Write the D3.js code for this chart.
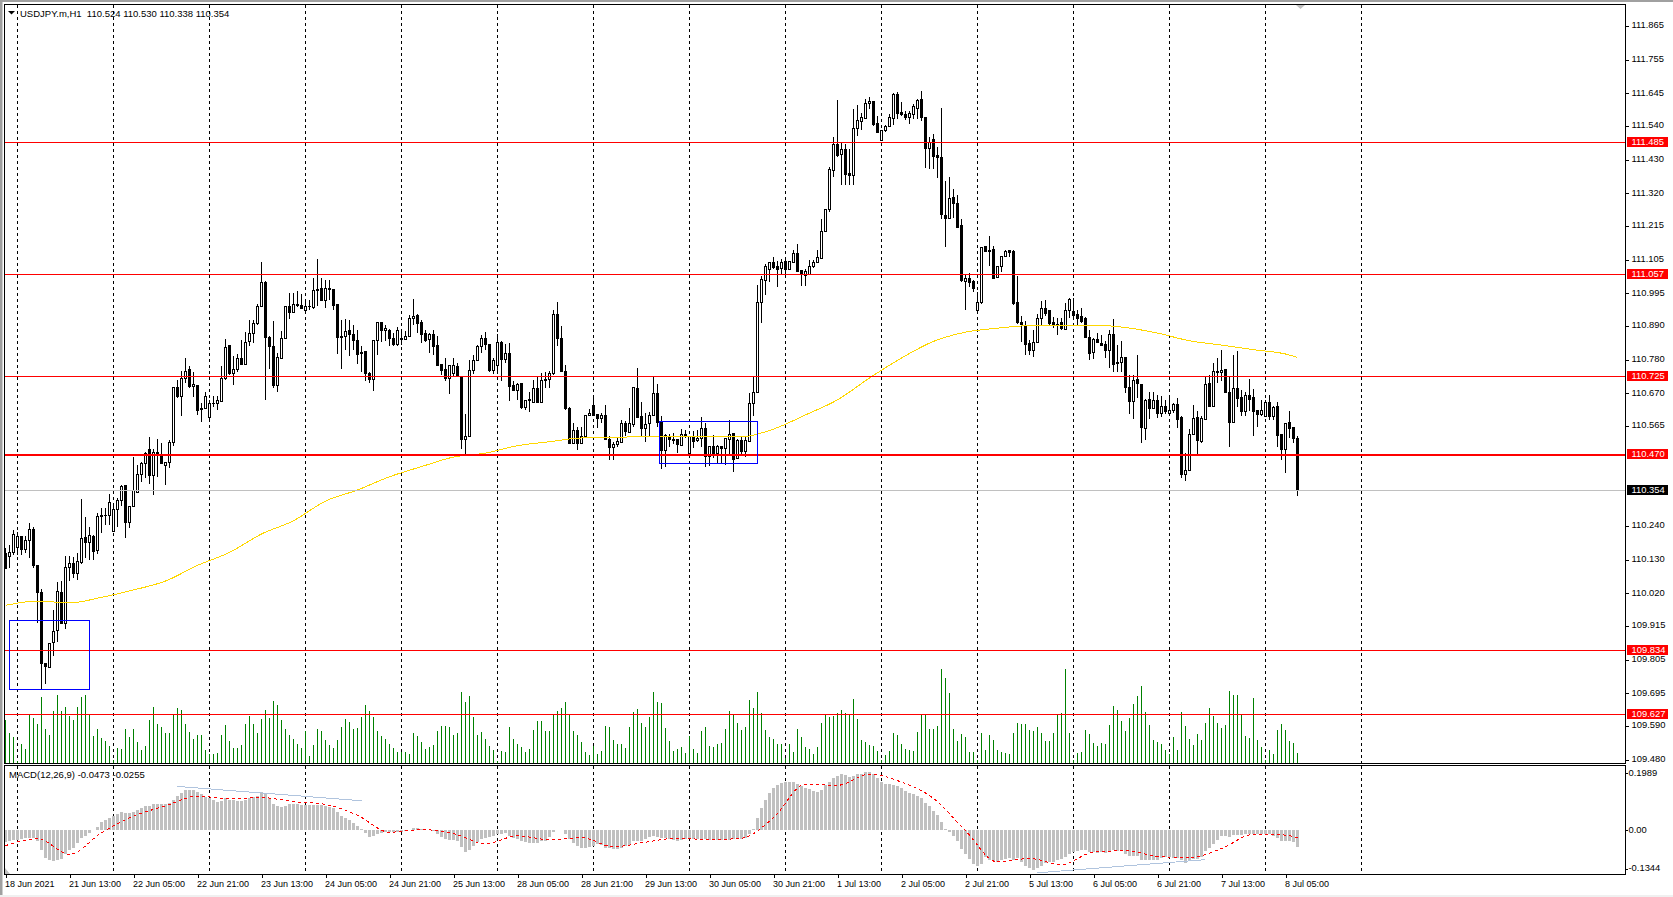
<!DOCTYPE html>
<html>
<head>
<meta charset="utf-8">
<script src="https://cdn.jsdelivr.net/npm/d3@7"></script>
<style>
html, body { margin: 0; padding: 0; background: #fff; overflow: hidden; }
svg { display: block; }
text { font-family: "Liberation Sans", Arial, sans-serif; font-size: 9px; fill: #000; }
</style>
</head>
<body>
<script>
// H1 candles, one row per bar: open, high, low, close
var candles = [
[110.150,110.166,110.098,110.101],[110.139,110.177,110.101,110.153],[110.153,110.226,110.144,110.212],[110.169,110.220,110.144,110.205],
[110.205,110.207,110.144,110.162],[110.162,110.206,110.152,110.192],[110.192,110.248,110.135,110.228],[110.229,110.237,110.104,110.110],
[110.109,110.110,109.924,110.022],[110.023,110.033,109.705,109.792],[109.792,109.793,109.725,109.781],[109.779,109.860,109.778,109.857],
[109.860,109.965,109.816,109.896],[109.899,110.057,109.861,110.026],[110.023,110.060,109.920,109.921],[109.922,110.143,109.904,110.104],
[110.104,110.143,110.061,110.116],[110.116,110.137,110.069,110.084],[110.084,110.150,110.064,110.124],[110.121,110.326,110.117,110.199],
[110.202,110.267,110.135,110.185],[110.185,110.237,110.130,110.209],[110.206,110.209,110.128,110.155],[110.159,110.280,110.148,110.270],
[110.274,110.296,110.215,110.269],[110.272,110.296,110.242,110.274],[110.272,110.342,110.243,110.316],[110.220,110.310,110.219,110.293],
[110.293,110.329,110.235,110.322],[110.322,110.372,110.304,110.368],[110.371,110.372,110.201,110.250],[110.250,110.304,110.233,110.303],
[110.303,110.462,110.302,110.355],[110.348,110.437,110.347,110.407],[110.407,110.446,110.382,110.443],[110.443,110.481,110.396,110.475],
[110.486,110.528,110.375,110.402],[110.403,110.488,110.340,110.478],[110.479,110.521,110.399,110.470],[110.470,110.508,110.440,110.441],
[110.437,110.447,110.372,110.446],[110.445,110.519,110.429,110.510],[110.510,110.691,110.500,110.690],[110.690,110.714,110.656,110.660],
[110.660,110.743,110.597,110.720],[110.720,110.786,110.703,110.742],[110.747,110.760,110.687,110.692],[110.692,110.741,110.657,110.700],
[110.697,110.698,110.600,110.615],[110.622,110.638,110.578,110.616],[110.622,110.674,110.620,110.660],[110.592,110.649,110.578,110.638],
[110.638,110.660,110.627,110.636],[110.637,110.660,110.616,110.647],[110.644,110.760,110.642,110.720],[110.720,110.848,110.714,110.820],
[110.825,110.828,110.730,110.734],[110.734,110.790,110.698,110.749],[110.749,110.799,110.741,110.785],[110.785,110.844,110.761,110.763],
[110.764,110.871,110.763,110.837],[110.838,110.907,110.825,110.866],[110.866,110.907,110.833,110.896],[110.896,110.960,110.893,110.954],
[110.952,111.097,110.950,111.032],[111.032,111.034,110.649,110.852],[110.853,110.857,110.750,110.823],[110.824,110.906,110.687,110.696],
[110.696,110.801,110.673,110.788],[110.784,110.874,110.781,110.850],[110.850,110.955,110.849,110.954],[110.952,110.995,110.913,110.933],
[110.934,110.996,110.931,110.960],[110.960,111.003,110.951,110.955],[110.957,110.994,110.944,110.946],[110.940,110.969,110.937,110.953],
[110.951,110.972,110.942,110.953],[110.950,111.045,110.944,111.006],[111.009,111.108,110.953,111.006],[111.012,111.045,110.969,110.972],
[110.973,111.037,110.947,111.012],[111.012,111.040,110.975,111.009],[111.009,111.010,110.940,110.956],[110.958,110.959,110.797,110.852],
[110.856,110.907,110.750,110.853],[110.855,110.912,110.812,110.871],[110.874,110.907,110.790,110.861],[110.863,110.893,110.812,110.842],
[110.843,110.877,110.766,110.797],[110.803,110.823,110.741,110.799],[110.805,110.806,110.709,110.736],[110.736,110.741,110.703,110.714],
[110.716,110.845,110.679,110.843],[110.843,110.902,110.796,110.899],[110.899,110.900,110.836,110.875],[110.876,110.893,110.839,110.882],
[110.876,110.879,110.823,110.850],[110.850,110.866,110.823,110.828],[110.828,110.886,110.825,110.874],[110.850,110.871,110.828,110.846],
[110.845,110.874,110.842,110.856],[110.856,110.926,110.855,110.912],[110.912,110.977,110.893,110.921],[110.922,110.928,110.866,110.897],
[110.900,110.907,110.833,110.862],[110.864,110.877,110.836,110.842],[110.846,110.866,110.801,110.860],[110.862,110.877,110.796,110.823],
[110.825,110.857,110.760,110.761],[110.765,110.766,110.730,110.745],[110.747,110.785,110.709,110.720],[110.718,110.763,110.667,110.761],
[110.734,110.785,110.727,110.761],[110.756,110.768,110.727,110.728],[110.725,110.726,110.490,110.519],[110.520,110.603,110.473,110.531],
[110.530,110.777,110.527,110.746],[110.746,110.796,110.733,110.778],[110.778,110.828,110.776,110.822],[110.822,110.861,110.801,110.850],
[110.850,110.869,110.812,110.828],[110.828,110.829,110.741,110.745],[110.745,110.785,110.734,110.778],[110.762,110.864,110.736,110.837],
[110.837,110.839,110.709,110.779],[110.779,110.830,110.768,110.801],[110.799,110.833,110.644,110.692],[110.695,110.709,110.677,110.679],
[110.679,110.703,110.649,110.700],[110.703,110.705,110.619,110.624],[110.624,110.649,110.616,110.648],[110.649,110.676,110.609,110.647],
[110.640,110.712,110.638,110.686],[110.687,110.725,110.638,110.640],[110.640,110.736,110.638,110.713],[110.713,110.738,110.689,110.716],
[110.716,110.744,110.687,110.735],[110.734,110.942,110.731,110.928],[110.928,110.966,110.823,110.849],[110.850,110.890,110.739,110.741],
[110.742,110.763,110.616,110.620],[110.622,110.627,110.505,110.507],[110.507,110.575,110.506,110.550],[110.550,110.562,110.486,110.508],
[110.508,110.562,110.506,110.531],[110.530,110.600,110.529,110.597],[110.597,110.620,110.595,110.605],[110.632,110.654,110.596,110.598],
[110.600,110.601,110.557,110.589],[110.589,110.606,110.573,110.599],[110.599,110.633,110.519,110.521],[110.521,110.530,110.454,110.495],
[110.494,110.513,110.454,110.505],[110.505,110.524,110.497,110.512],[110.511,110.584,110.510,110.573],[110.573,110.581,110.530,110.546],
[110.544,110.622,110.541,110.573],[110.570,110.691,110.562,110.690],[110.687,110.752,110.589,110.592],[110.594,110.641,110.530,110.556],
[110.556,110.606,110.511,110.570],[110.571,110.609,110.530,110.598],[110.597,110.728,110.595,110.671],[110.671,110.701,110.562,110.576],
[110.575,110.595,110.423,110.484],[110.484,110.537,110.432,110.534],[110.530,110.537,110.497,110.521],[110.521,110.541,110.506,110.517],
[110.521,110.522,110.475,110.503],[110.501,110.555,110.499,110.536],[110.533,110.551,110.524,110.537],[110.475,110.531,110.459,110.530],
[110.530,110.547,110.492,110.513],[110.516,110.551,110.513,110.524],[110.523,110.592,110.497,110.557],[110.557,110.573,110.432,110.465],
[110.465,110.499,110.434,110.498],[110.498,110.534,110.459,110.471],[110.473,110.503,110.445,110.496],[110.496,110.499,110.445,110.492],
[110.492,110.523,110.436,110.522],[110.520,110.584,110.470,110.537],[110.538,110.539,110.414,110.456],[110.458,110.521,110.456,110.518],
[110.517,110.530,110.465,110.481],[110.481,110.530,110.462,110.516],[110.513,110.671,110.512,110.638],[110.638,110.727,110.598,110.673],
[110.673,111.021,110.672,110.967],[110.964,111.052,110.899,111.039],[111.037,111.092,110.991,111.081],[111.072,111.096,111.031,111.094],
[111.095,111.112,111.075,111.079],[111.081,111.099,111.015,111.074],[111.075,111.108,111.056,111.097],[111.098,111.113,111.058,111.072],
[111.074,111.101,111.072,111.099],[111.096,111.135,111.095,111.124],[111.126,111.156,111.066,111.067],[111.068,111.072,111.018,111.055],
[111.053,111.074,111.018,111.067],[111.056,111.103,111.055,111.084],[111.083,111.103,111.077,111.094],[111.094,111.135,111.093,111.113],
[111.110,111.237,111.109,111.197],[111.197,111.270,111.195,111.267],[111.267,111.406,111.259,111.397],[111.396,111.504,111.373,111.479],
[111.479,111.622,111.439,111.443],[111.447,111.484,111.347,111.463],[111.463,111.482,111.347,111.381],[111.384,111.465,111.346,111.379],
[111.379,111.593,111.346,111.530],[111.530,111.606,111.508,111.556],[111.553,111.580,111.526,111.566],[111.565,111.628,111.564,111.611],
[111.611,111.634,111.593,111.619],[111.619,111.620,111.539,111.545],[111.547,111.573,111.515,111.519],[111.492,111.525,111.490,111.525],
[111.524,111.541,111.521,111.538],[111.537,111.577,111.536,111.566],[111.565,111.645,111.542,111.642],[111.642,111.649,111.563,111.581],
[111.583,111.618,111.571,111.575],[111.577,111.588,111.558,111.568],[111.568,111.588,111.547,111.579],[111.578,111.609,111.563,111.602],
[111.597,111.628,111.563,111.621],[111.624,111.654,111.554,111.568],[111.566,111.567,111.402,111.465],[111.465,111.504,111.400,111.487],
[111.495,111.512,111.398,111.441],[111.442,111.471,111.369,111.436],[111.436,111.598,111.237,111.253],[111.247,111.360,111.145,111.240],
[111.240,111.374,111.237,111.305],[111.307,111.333,111.240,111.286],[111.286,111.316,111.208,111.210],[111.215,111.237,111.031,111.037],
[111.034,111.056,110.942,111.045],[111.045,111.061,111.016,111.031],[111.034,111.040,110.998,111.010],[110.940,110.998,110.937,110.966],
[110.964,111.145,110.961,111.143],[111.146,111.150,111.129,111.131],[111.135,111.183,111.083,111.132],[111.139,111.150,111.044,111.045],
[111.048,111.085,111.045,111.084],[111.083,111.118,111.064,111.114],[111.116,111.135,111.113,111.130],[111.133,111.137,111.113,111.129],
[111.132,111.137,110.956,110.962],[110.964,111.053,110.895,110.899],[110.902,110.920,110.838,110.895],[110.890,110.904,110.796,110.830],
[110.831,110.844,110.796,110.810],[110.810,110.877,110.787,110.836],[110.836,110.929,110.835,110.915],[110.915,110.969,110.888,110.947],
[110.947,110.975,110.920,110.929],[110.939,110.942,110.893,110.896],[110.899,110.917,110.881,110.890],[110.895,110.915,110.861,110.891],
[110.899,110.915,110.875,110.880],[110.879,110.964,110.877,110.940],[110.940,110.979,110.915,110.975],[110.937,110.979,110.918,110.922],
[110.928,110.940,110.893,110.912],[110.920,110.947,110.899,110.904],[110.915,110.918,110.850,110.852],[110.852,110.877,110.777,110.801],
[110.803,110.850,110.782,110.846],[110.846,110.866,110.833,110.836],[110.833,110.861,110.823,110.825],[110.830,110.839,110.785,110.810],
[110.810,110.875,110.754,110.863],[110.863,110.912,110.738,110.764],[110.772,110.828,110.741,110.766],[110.771,110.839,110.738,110.787],
[110.788,110.789,110.671,110.689],[110.690,110.730,110.603,110.644],[110.644,110.730,110.587,110.712],[110.714,110.796,110.654,110.701],
[110.700,110.701,110.510,110.559],[110.557,110.651,110.517,110.648],[110.651,110.675,110.587,110.621],[110.620,110.676,110.619,110.648],
[110.648,110.664,110.589,110.603],[110.605,110.660,110.593,110.628],[110.628,110.649,110.603,110.610],[110.605,110.654,110.600,110.615],
[110.613,110.638,110.606,110.635],[110.635,110.654,110.557,110.586],[110.590,110.595,110.394,110.407],[110.407,110.475,110.386,110.420],
[110.420,110.554,110.418,110.537],[110.537,110.633,110.535,110.589],[110.593,110.614,110.473,110.517],[110.513,110.597,110.510,110.587],
[110.586,110.725,110.584,110.700],[110.703,110.730,110.625,110.627],[110.627,110.768,110.626,110.742],[110.742,110.785,110.705,110.738],
[110.738,110.812,110.709,110.746],[110.747,110.748,110.671,110.673],[110.674,110.725,110.497,110.575],[110.575,110.796,110.573,110.687],
[110.687,110.809,110.627,110.654],[110.657,110.682,110.595,110.611],[110.611,110.676,110.595,110.664],[110.664,110.716,110.614,110.649],
[110.658,110.685,110.530,110.611],[110.613,110.616,110.560,110.601],[110.601,110.647,110.597,110.613],[110.595,110.647,110.593,110.641],
[110.641,110.665,110.582,110.595],[110.595,110.630,110.582,110.625],[110.626,110.641,110.497,110.534],[110.535,110.536,110.452,110.486],
[110.486,110.575,110.412,110.573],[110.574,110.614,110.524,110.556],[110.558,110.559,110.510,110.523],[110.524,110.530,110.338,110.354]
];

// tick volume per bar (relative units, no scale is shown on the chart)
var volumes = [
130,93,80,8,58,43,145,136,120,199,105,86,157,205,157,169,143,130,169,199,
205,150,82,104,76,68,53,10,46,43,103,80,103,64,40,52,130,169,118,109,
91,91,145,166,160,118,94,73,85,85,40,28,28,33,85,115,67,46,46,55,
118,142,118,91,133,160,136,187,175,130,103,85,73,60,46,98,22,55,103,97,
70,55,46,70,109,133,124,103,106,139,175,157,139,97,82,74,58,46,34,34,
34,28,91,82,66,43,50,55,97,114,112,109,85,91,214,184,202,139,85,94,
73,52,40,8,37,34,109,73,58,49,34,43,100,127,127,97,97,145,157,166,
184,148,97,85,64,34,25,52,28,37,112,109,70,58,58,46,109,154,163,121,
109,139,214,184,181,106,67,37,43,49,31,82,43,31,97,109,52,49,58,61,
103,157,148,121,100,109,190,166,214,151,100,79,73,58,58,16,58,34,103,79,
49,43,28,49,121,145,139,142,151,160,151,145,193,133,70,64,55,52,37,10,
25,37,91,87,58,43,40,37,94,145,145,103,103,112,283,256,211,103,67,88,
79,34,34,12,91,40,85,70,40,34,31,28,91,121,118,118,100,97,109,91,
67,67,91,148,151,283,91,10,31,34,100,88,61,52,61,58,115,172,160,127,
97,136,178,202,232,154,115,70,64,58,40,28,79,40,154,112,73,55,88,70,
121,166,142,121,106,115,217,205,205,145,82,76,196,70,49,10,40,28,100,118,
100,67,61,31
];

// MACD histogram per bar
var macdHist = [
-.041,-.037,-.035,-.033,-.030,-.028,-.026,-.026,-.037,-.070,-.096,-.103,-.107,-.103,-.100,-.084,-.068,-.061,-.044,-.028,
-.019,-.009,.002,.012,.028,.035,.042,.049,.056,.063,.061,.061,.065,.070,.077,.086,.084,.091,.091,.091,
.091,.096,.107,.121,.131,.140,.140,.140,.133,.126,.117,.112,.105,.100,.103,.112,.107,.105,.103,.103,
.107,.112,.117,.121,.135,.126,.112,.093,.084,.082,.086,.091,.093,.091,.089,.089,.089,.089,.089,.089,
.086,.082,.077,.063,.049,.042,.035,.026,.014,.005,-.009,-.023,-.019,-.014,-.009,-.006,-.005,-.007,-.007,-.006,
-.002,.002,.007,.009,.005,.002,.002,-.002,-.014,-.023,-.030,-.033,-.035,-.037,-.058,-.077,-.068,-.056,-.042,-.030,
-.026,-.023,-.021,-.012,-.014,-.009,-.021,-.026,-.030,-.037,-.041,-.044,-.044,-.044,-.037,-.037,-.023,-.007,.002,.002,
-.014,-.030,-.044,-.056,-.063,-.063,-.058,-.054,-.049,-.051,-.061,-.063,-.065,-.065,-.061,-.056,-.051,-.037,-.037,-.037,
-.030,-.023,-.021,-.023,-.028,-.028,-.030,-.035,-.037,-.035,-.030,-.028,-.030,-.030,-.033,-.030,-.035,-.035,-.033,-.033,
-.030,-.033,-.030,-.028,-.030,-.026,-.014,.005,.042,.077,.105,.131,.147,.159,.166,.168,.168,.170,.163,.154,
.149,.145,.138,.135,.140,.159,.168,.182,.191,.196,.194,.187,.191,.196,.198,.203,.205,.196,.182,.170,
.161,.161,.159,.154,.147,.138,.131,.126,.121,.112,.096,.084,.068,.054,.028,.005,-.005,-.021,-.037,-.065,
-.084,-.100,-.117,-.126,-.119,-.093,-.105,-.107,-.110,-.105,-.100,-.096,-.103,-.098,-.112,-.124,-.133,-.140,-.133,-.124,
-.114,-.112,-.110,-.105,-.100,-.093,-.084,-.077,-.072,-.070,-.070,-.075,-.077,-.079,-.077,-.079,-.075,-.070,-.072,-.072,
-.084,-.091,-.091,-.089,-.103,-.103,-.103,-.103,-.103,-.098,-.093,-.093,-.096,-.096,-.105,-.114,-.103,-.100,-.100,-.093,
-.072,-.063,-.047,-.033,-.021,-.021,-.023,-.016,-.016,-.016,-.015,-.014,-.014,-.014,-.015,-.014,-.014,-.021,-.028,-.037,
-.037,-.037,-.042,-.058
];

// signal line
var signalBars = [0,8,16,24,32,40,48,56,64,72,80,88,96,104,112,120,128,136,144,152,160,168,176,184,192,200,208,216,224,232,240,248,256,264,272,280,288,296,304,312,320,323];
var signalVals = [-.054,-.030,-.084,-.009,.049,.085,.119,.110,.114,.100,.090,.052,-.007,.002,-.012,-.047,-.020,-.033,-.026,-.058,-.042,-.028,-.033,-.028,.044,.161,.157,.196,.168,.111,-.002,-.111,-.099,-.120,-.077,-.072,-.091,-.096,-.064,-.015,-.017,-.027];

// moving average
var maBars = [0,8,16,24,32,40,48,56,64,72,80,88,96,104,112,120,128,136,144,152,160,168,176,184,192,200,208,216,224,232,240,248,256,264,272,280,288,296,304,312,320,323];
var maVals = [109.981,109.995,109.989,110.007,110.031,110.060,110.111,110.153,110.213,110.256,110.320,110.356,110.399,110.432,110.463,110.476,110.500,110.513,110.525,110.526,110.531,110.531,110.531,110.529,110.554,110.600,110.649,110.720,110.785,110.839,110.869,110.882,110.890,110.890,110.892,110.884,110.866,110.841,110.827,110.812,110.798,110.787];

var levels = [111.485, 111.057, 110.725, 110.470, 109.834, 109.627];
var thickLevel = 110.470;
var bidPrice = 110.354;

var priceTicks = [111.865,111.755,111.645,111.540,111.430,111.320,111.215,111.105,110.995,110.890,110.780,110.670,110.565,110.240,110.130,110.020,109.915,109.805,109.695,109.590,109.480];
var macdTicks = [0.1989, 0, -0.1344];
var macdTickLabels = ["0.1989", "0.00", "-0.1344"];

var timeLabels = ["18 Jun 2021","21 Jun 13:00","22 Jun 05:00","22 Jun 21:00","23 Jun 13:00","24 Jun 05:00","24 Jun 21:00","25 Jun 13:00","28 Jun 05:00","28 Jun 21:00","29 Jun 13:00","30 Jun 05:00","30 Jun 21:00","1 Jul 13:00","2 Jul 05:00","2 Jul 21:00","5 Jul 13:00","6 Jul 05:00","6 Jul 21:00","7 Jul 13:00","8 Jul 05:00"];
var timeBars = [0,16,32,48,64,80,96,112,128,144,160,176,192,208,224,240,256,272,288,304,320];
var dayBars = [3,27,51,75,99,123,147,171,195,219,243,267,291,315,339];

// blue boxes: first bar, last bar, top price, bottom price
var boxes = [[1.1, 21, 109.932, 109.707], [163.5, 188, 110.580, 110.443]];
// trend lines on the MACD pane
var macdTrends = [[43, .153, 89, .103], [258, -.149, 300, -.103]];

var width = 1673, height = 897;
var left = 4.5, right = 1625.5;
var mainTop = 4.5, mainBottom = 763.5, macdTop = 765.5, macdBottom = 874.5;

var x = d3.scaleLinear().domain([0, 323]).range([5.5, 1297.5]);
var y = d3.scaleLinear().domain([109.467, 111.934]).range([mainBottom, mainTop]);
var yVol = d3.scaleLinear().domain([0, 300]).range([mainBottom, mainBottom - 100]);
var yMacd = d3.scaleLinear().domain([-.1549, .2262]).range([macdBottom, macdTop]);

var svg = d3.select("body").append("svg").attr("width", width).attr("height", height);

// window chrome
svg.append("rect").attr("width", width).attr("height", height).attr("fill", "#fff");
svg.append("rect").attr("width", width).attr("height", 2).attr("fill", "#a0a0a0");
svg.append("rect").attr("width", 2.5).attr("height", height).attr("fill", "#a0a0a0");
svg.append("rect").attr("y", 895).attr("width", width).attr("height", 2).attr("fill", "#f0f0f0");

var crisp = svg.append("g").attr("shape-rendering", "crispEdges");

// day separators in both panes
[[mainTop, mainBottom], [macdTop, macdBottom]].forEach(function (pane) {
    crisp.append("g").selectAll("line").data(dayBars).join("line")
        .attr("x1", x).attr("x2", x)
        .attr("y1", pane[0]).attr("y2", pane[1])
        .attr("stroke", "#000").attr("stroke-dasharray", "3,3");
});

// volume
crisp.append("g").selectAll("line").data(volumes).join("line")
    .attr("x1", function (d, i) { return x(i); })
    .attr("x2", function (d, i) { return x(i); })
    .attr("y1", yVol(0))
    .attr("y2", function (d) { return yVol(d); })
    .attr("stroke", "#008000");

// candles
var bars = crisp.append("g").selectAll("g").data(candles).join("g");
bars.append("line")
    .attr("x1", function (d, i) { return x(i); })
    .attr("x2", function (d, i) { return x(i); })
    .attr("y1", function (d) { return y(d[1]); })
    .attr("y2", function (d) { return y(d[2]); })
    .attr("stroke", "#000");
bars.append("rect")
    .attr("x", function (d, i) { return x(i) - 1; })
    .attr("width", 2)
    .attr("y", function (d) { return y(Math.max(d[0], d[3])); })
    .attr("height", function (d) { return Math.abs(y(d[0]) - y(d[3])); })
    .attr("fill", function (d) { return d[3] > d[0] ? "#fff" : "#000"; })
    .attr("stroke", "#000");

// moving average
crisp.append("path")
    .attr("d", d3.line()
        .x(function (d) { return x(d); })
        .y(function (d, i) { return y(maVals[i]); })
        .curve(d3.curveMonotoneX)(maBars))
    .attr("fill", "none").attr("stroke", "#ffd700");

// MACD histogram and signal
crisp.append("g").selectAll("rect").data(macdHist).join("rect")
    .attr("x", function (d, i) { return x(i) - 1.5; })
    .attr("width", 3)
    .attr("y", function (d) { return d > 0 ? yMacd(d) : yMacd(0); })
    .attr("height", function (d) { return Math.abs(yMacd(d) - yMacd(0)); })
    .attr("fill", "#c0c0c0");

crisp.append("path")
    .attr("d", d3.line()
        .x(function (d) { return x(d); })
        .y(function (d, i) { return yMacd(signalVals[i]); })
        .curve(d3.curveMonotoneX)(signalBars))
    .attr("fill", "none").attr("stroke", "#f00").attr("stroke-dasharray", "3,3");

crisp.append("g").selectAll("line").data(macdTrends).join("line")
    .attr("x1", function (d) { return x(d[0]); })
    .attr("y1", function (d) { return yMacd(d[1]); })
    .attr("x2", function (d) { return x(d[2]); })
    .attr("y2", function (d) { return yMacd(d[3]); })
    .attr("stroke", "#b0c4de");

// horizontal levels
crisp.append("line")
    .attr("x1", left).attr("x2", right)
    .attr("y1", y(bidPrice)).attr("y2", y(bidPrice))
    .attr("stroke", "#c0c0c0");
crisp.append("g").selectAll("line").data(levels).join("line")
    .attr("x1", left).attr("x2", right)
    .attr("y1", y).attr("y2", y)
    .attr("stroke", "#f00")
    .attr("stroke-width", function (d) { return d === thickLevel ? 2 : 1; });

// blue boxes
crisp.append("g").selectAll("rect").data(boxes).join("rect")
    .attr("x", function (d) { return x(d[0]); })
    .attr("y", function (d) { return y(d[2]); })
    .attr("width", function (d) { return x(d[1]) - x(d[0]); })
    .attr("height", function (d) { return y(d[3]) - y(d[2]); })
    .attr("fill", "none").attr("stroke", "#00f");

// pane frames
[[mainTop, mainBottom], [macdTop, macdBottom]].forEach(function (pane) {
    crisp.append("rect")
        .attr("x", left).attr("y", pane[0])
        .attr("width", right - left).attr("height", pane[1] - pane[0])
        .attr("fill", "none").attr("stroke", "#000");
});

// axes
var priceAxis = svg.append("g").attr("transform", "translate(" + right + ",0)")
    .call(d3.axisRight(y).tickValues(priceTicks).tickFormat(d3.format(".3f")).tickSize(3).tickPadding(3));
var macdAxis = svg.append("g").attr("transform", "translate(" + right + ",0)")
    .call(d3.axisRight(yMacd).tickValues(macdTicks).tickSize(2).tickPadding(1)
        .tickFormat(function (d, i) { return macdTickLabels[i]; }));
var timeAxis = svg.append("g").attr("transform", "translate(0," + macdBottom + ")")
    .call(d3.axisBottom(x).tickValues(timeBars).tickSize(3).tickPadding(3)
        .tickFormat(function (d, i) { return timeLabels[i]; }));
timeAxis.selectAll("text").attr("text-anchor", "start").attr("dx", -1);
[priceAxis, macdAxis, timeAxis].forEach(function (axis) {
    axis.attr("font-family", null).attr("font-size", null);
    axis.select(".domain").remove();
    axis.selectAll("line").attr("stroke", "#000").attr("shape-rendering", "crispEdges");
});
[priceAxis, macdAxis].forEach(function (axis) {
    axis.selectAll("text").attr("dy", ".24em").style("font-size", "9.4px");
});

// price tags on the scale
var tags = levels.map(function (d) { return { price: d, fill: "#f00" }; })
    .concat([{ price: bidPrice, fill: "#000" }]);
var tag = svg.append("g").selectAll("g").data(tags).join("g")
    .attr("transform", function (d) { return "translate(1627," + y(d.price) + ")"; });
tag.append("rect")
    .attr("y", -5.5).attr("width", 41).attr("height", 10)
    .attr("fill", function (d) { return d.fill; })
    .attr("shape-rendering", "crispEdges");
tag.append("text")
    .attr("x", 4.5).attr("y", 2.5)
    .style("fill", "#fff").style("font-size", "9.4px")
    .text(function (d) { return d3.format(".3f")(d.price); });

// pane titles
svg.append("path").attr("d", "M8 11H15L11.5 14.5Z").attr("fill", "#000");
svg.append("text").attr("x", 20).attr("y", 16.5)
    .style("white-space", "pre").style("font-size", "9.5px")
    .text("USDJPY.m,H1  110.524 110.530 110.338 110.354");
svg.append("text").attr("x", 9).attr("y", 777.5).style("font-size", "9.5px")
    .text("MACD(12,26,9) -0.0473 -0.0255");

// small leftovers in the picture: shift marker, corner of the oldest bar
svg.append("path").attr("d", "M1296 5H1305L1300.5 9Z").attr("fill", "#c0c0c0");
svg.append("path").attr("d", "M5 868L10 874H5Z").attr("fill", "#c0c0c0");
</script>
</body>
</html>
